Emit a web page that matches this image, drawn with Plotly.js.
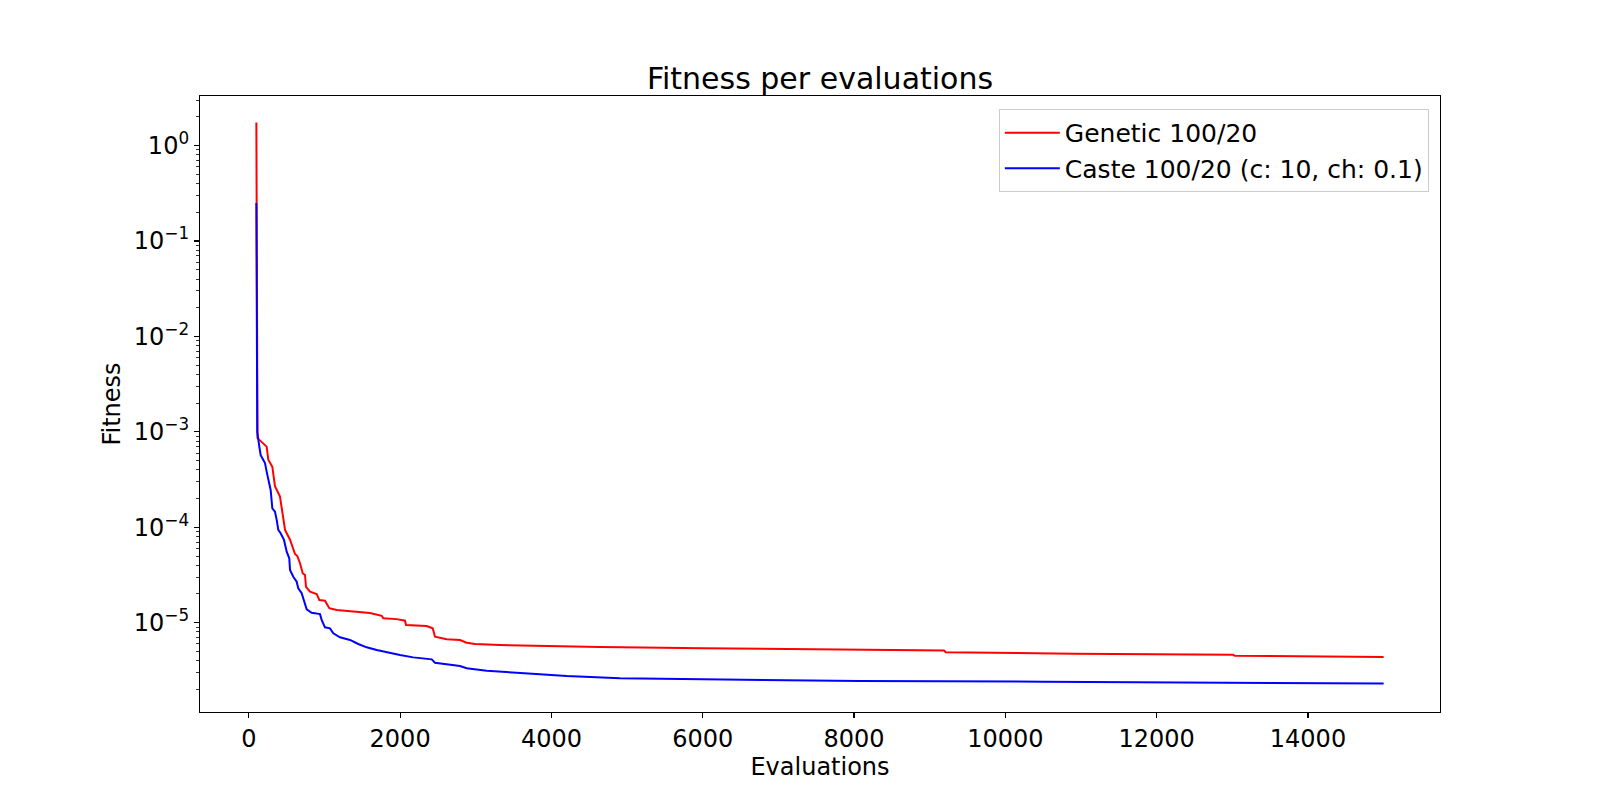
<!DOCTYPE html>
<html>
<head>
<meta charset="utf-8">
<script src="https://cdn.plot.ly/plotly-3.0.1.min.js"></script>
<style>
  html, body { margin: 0; padding: 0; background: #fff; }
  #graphDiv { width: 1600px; height: 800px; }
</style>
</head>
<body>
<div id="graphDiv"></div>
<script>
// values (evaluations, fitness)
var geneticX = [100, 115, 236, 258, 311, 346, 412, 448, 479, 545, 611, 641, 677, 712, 743, 756, 809, 897, 932,
    1007, 1064, 1162, 1294, 1426, 1602, 1757, 1778, 1955, 2065, 2078, 2351, 2431, 2461, 2616, 2792, 2880, 2990,
    3320, 3761, 4202, 4642, 6000, 8079, 9189, 9212, 10908, 13010, 13033, 15000];
var geneticY = [1.75, 8.6e-4, 7.0e-4, 5.1e-4, 4.3e-4, 2.7e-4, 2.1e-4, 1.3e-4, 9.4e-5, 7.4e-5, 5.25e-5, 5.0e-5, 4.2e-5,
    3.3e-5, 3.16e-5, 2.38e-5, 2.11e-5, 2.0e-5, 1.73e-5, 1.70e-5, 1.42e-5, 1.36e-5, 1.33e-5, 1.29e-5, 1.26e-5,
    1.18e-5, 1.11e-5, 1.09e-5, 1.05e-5, 9.46e-6, 9.23e-6, 8.73e-6, 7.13e-6, 6.7e-6, 6.59e-6, 6.17e-6, 5.98e-6,
    5.84e-6, 5.74e-6, 5.6e-6, 5.56e-6, 5.4e-6, 5.25e-6, 5.1e-6, 4.9e-6, 4.73e-6, 4.62e-6, 4.5e-6, 4.36e-6];

var casteX = [100, 112, 139, 157, 192, 214, 236, 271, 289, 311, 346, 369, 390, 421, 465, 501, 535, 545, 588, 633,
    654, 699, 721, 765, 831, 941, 963, 1007, 1073, 1117, 1205, 1338, 1447, 1558, 1690, 1844, 1999, 2174, 2418,
    2461, 2792, 2880, 3145, 3541, 3761, 4202, 4906, 6000, 8079, 10500, 15000];
var casteY = [0.25, 1.0e-3, 7.0e-4, 5.7e-4, 5.08e-4, 4.7e-4, 3.83e-4, 2.9e-4, 2.46e-4, 1.58e-4, 1.46e-4, 1.19e-4,
    9.4e-5, 8.65e-5, 7.37e-5, 5.55e-5, 4.73e-5, 3.57e-5, 3.03e-5, 2.69e-5, 2.29e-5, 2.04e-5, 1.8e-5, 1.38e-5,
    1.27e-5, 1.23e-5, 1.07e-5, 8.95e-6, 8.73e-6, 7.74e-6, 7.03e-6, 6.59e-6, 5.98e-6, 5.52e-6, 5.17e-6, 4.85e-6,
    4.58e-6, 4.33e-6, 4.13e-6, 3.81e-6, 3.52e-6, 3.33e-6, 3.14e-6, 2.99e-6, 2.9e-6, 2.76e-6, 2.61e-6, 2.55e-6,
    2.45e-6, 2.41e-6, 2.30e-6];

var seriesNames = ["Genetic 100/20", "Caste 100/20 (c: 10, ch: 0.1)"];
var xTicks = [0, 2000, 4000, 6000, 8000, 10000, 12000, 14000];
var yExponents = [0, -1, -2, -3, -4, -5];

var yTickVals = yExponents.map(function (e) { return Math.pow(10, e); });
var yTickText = yExponents.map(function (e) {
    return "10<sup>" + (e < 0 ? "\u2212" + (-e) : e) + "</sup>";
});
// minor ticks 2..9 in every decade shown
var yMinor = [];
for (var e = -6; e <= 0; e++) {
    for (var m = 2; m <= 9; m++) {
        yMinor.push(m * Math.pow(10, e));
    }
}

var font = "DejaVu Sans, Liberation Sans, sans-serif";

var data = [
    {
        type: 'scatter', mode: 'lines', name: seriesNames[0],
        x: geneticX, y: geneticY,
        line: { color: 'red', width: 2 }
    },
    {
        type: 'scatter', mode: 'lines', name: seriesNames[1],
        x: casteX, y: casteY,
        line: { color: 'blue', width: 2 }
    }
];

var layout = {
    width: 1600,
    height: 800,
    paper_bgcolor: 'white',
    plot_bgcolor: 'white',
    font: { family: font, size: 24, color: 'black' },
    margin: { l: 200, r: 160, t: 96, b: 88, pad: 0 },
    showlegend: true,
    title: {
        text: "Fitness per evaluations",
        font: { family: font, size: 30, color: 'black' },
        xref: 'paper', x: 0.5, xanchor: 'center',
        yref: 'container', y: 0.902, yanchor: 'middle'
    },
    xaxis: {
        range: [-645, 15745],
        tickmode: 'array',
        tickvals: xTicks,
        ticktext: xTicks.map(String),
        ticks: 'outside', ticklen: 5, tickwidth: 1.1, tickcolor: 'black',
        showline: true, mirror: true, linecolor: 'black', linewidth: 1.1,
        showgrid: false, zeroline: false,
        tickfont: { family: font, size: 24 },
        title: { text: "Evaluations", font: { family: font, size: 24 }, standoff: 2 },
        automargin: false
    },
    yaxis: {
        type: 'log',
        range: [-5.936, 0.52],
        tickmode: 'array',
        tickvals: yTickVals,
        ticktext: yTickText,
        ticks: 'outside', ticklen: 5, tickwidth: 1.1, tickcolor: 'black',
        minor: { tickmode: 'array', tickvals: yMinor, ticks: 'outside', ticklen: 3, tickwidth: 0.8, tickcolor: 'black', showgrid: false },
        showline: true, mirror: true, linecolor: 'black', linewidth: 1.1,
        showgrid: false, zeroline: false,
        tickfont: { family: font, size: 24 },
        title: { text: "Fitness", font: { family: font, size: 24 }, standoff: 6 },
        automargin: false
    },
    legend: {
        x: 0.991, xanchor: 'right',
        y: 0.979, yanchor: 'top',
        bgcolor: 'rgba(255,255,255,0.8)',
        bordercolor: '#cccccc', borderwidth: 1,
        font: { family: font, size: 25 },
        itemwidth: 55
    }
};

Plotly.newPlot("graphDiv", data, layout, { staticPlot: true, displayModeBar: false });
</script>
</body>
</html>
